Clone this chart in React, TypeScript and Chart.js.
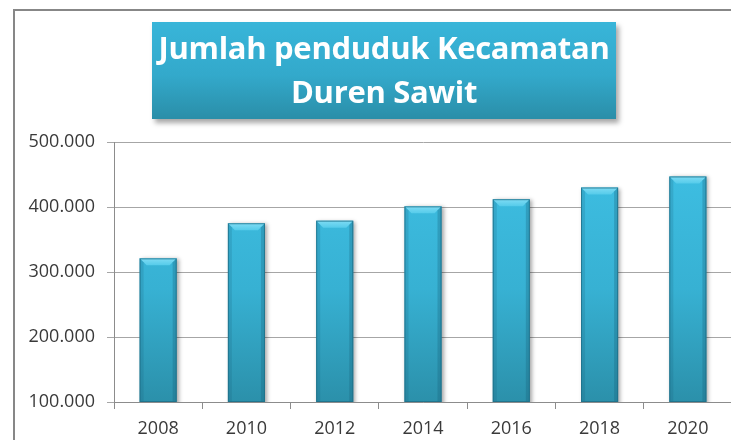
import React, { useEffect, useRef } from "react";
import { Chart, registerables } from "chart.js";

Chart.register(...registerables);

const titleLines = ["Jumlah penduduk Kecamatan", "Duren Sawit"];
const categories = ["2008", "2010", "2012", "2014", "2016", "2018", "2020"];
const population = [321000, 375000, 379000, 401000, 412000, 430000, 447000];
const yMin = 100000;
const yMax = 500000;
const yStep = 100000;

const formatDots = (v: number) =>
  String(Math.round(v)).replace(/\B(?=(\d{3})+(?!\d))/g, ".");

const barGeom = (chart: any, el: any) => {
  const area = chart.chartArea;
  const left = el.x - el.width / 2;
  const right = el.x + el.width / 2;
  const top = Math.max(Math.min(el.y, el.base), area.top);
  const bottom = Math.min(Math.max(el.y, el.base), area.bottom);
  return { left, right, top, bottom };
};

const barStylePlugin = {
  id: "barStyle",
  beforeDatasetsDraw(chart: any) {
    const ctx = chart.ctx;
    const meta = chart.getDatasetMeta(0);
    meta.data.forEach((el: any) => {
      const { top, bottom } = barGeom(chart, el);
      const g = ctx.createLinearGradient(0, top, 0, bottom);
      g.addColorStop(0, "#3dbde1");
      g.addColorStop(0.5, "#37b1d3");
      g.addColorStop(1, "#2b90aa");
      el.options.backgroundColor = g;
    });
    ctx.save();
    ctx.shadowColor = "rgba(0,0,0,0.35)";
    ctx.shadowBlur = 4;
    ctx.shadowOffsetX = 2;
    ctx.shadowOffsetY = 1;
  },
  afterDatasetsDraw(chart: any) {
    const ctx = chart.ctx;
    ctx.restore();
    const meta = chart.getDatasetMeta(0);
    meta.data.forEach((el: any) => {
      const { left, right, top, bottom } = barGeom(chart, el);
      const b = 7;
      const s = 4;
      ctx.save();
      const tg = ctx.createLinearGradient(0, top, 0, top + b);
      tg.addColorStop(0, "#7fdcf4");
      tg.addColorStop(1, "#55cbea");
      ctx.fillStyle = tg;
      ctx.beginPath();
      ctx.moveTo(left, top);
      ctx.lineTo(right, top);
      ctx.lineTo(right - b, top + b);
      ctx.lineTo(left + b, top + b);
      ctx.closePath();
      ctx.fill();
      ctx.fillStyle = "rgba(20,90,115,0.18)";
      ctx.beginPath();
      ctx.moveTo(left, top);
      ctx.lineTo(left + s, top + s);
      ctx.lineTo(left + s, bottom);
      ctx.lineTo(left, bottom);
      ctx.closePath();
      ctx.fill();
      ctx.fillStyle = "rgba(20,90,115,0.28)";
      ctx.beginPath();
      ctx.moveTo(right, top);
      ctx.lineTo(right - s, top + s);
      ctx.lineTo(right - s, bottom);
      ctx.lineTo(right, bottom);
      ctx.closePath();
      ctx.fill();
      ctx.strokeStyle = "rgba(30,110,135,0.8)";
      ctx.lineWidth = 1;
      ctx.strokeRect(left + 0.5, top + 0.5, right - left - 1, bottom - top - 1);
      ctx.restore();
    });
  },
};

export default function App() {
  const canvasRef = useRef<HTMLCanvasElement | null>(null);

  useEffect(() => {
    const canvas = canvasRef.current;
    if (!canvas) return;
    const tickFont = { family: "'Open Sans', sans-serif", size: 18 };
    const chart = new Chart(canvas, {
      type: "bar",
      data: {
        labels: categories,
        datasets: [
          {
            label: "Jumlah penduduk",
            data: population,
            backgroundColor: "#37b1d3",
            borderWidth: 0,
            categoryPercentage: 1,
            barPercentage: 0.42,
          },
        ],
      },
      options: {
        responsive: false,
        animation: false,
        layout: { padding: { top: 142, right: 7, bottom: 0, left: 0 } },
        plugins: {
          legend: { display: false },
          title: { display: false },
          tooltip: { enabled: false },
        },
        scales: {
          x: {
            offset: true,
            grid: {
              offset: true,
              drawOnChartArea: false,
              drawTicks: true,
              tickLength: 7,
              color: "#8c8c8c",
            },
            border: { display: true, color: "#8c8c8c" },
            ticks: { font: tickFont, color: "#3a3a3a", padding: 9, maxRotation: 0 },
            afterFit(scale: any) {
              scale.height = 46;
            },
          },
          y: {
            min: yMin,
            max: yMax,
            ticks: {
              stepSize: yStep,
              font: tickFont,
              color: "#3a3a3a",
              padding: 12,
              callback: (v: any) => formatDots(Number(v)),
            },
            grid: { color: "#a6a6a6", tickLength: 7, drawTicks: true },
            border: { display: true, color: "#8c8c8c" },
            afterFit(scale: any) {
              scale.width = 114;
            },
          },
        },
      },
      plugins: [barStylePlugin],
    });
    return () => chart.destroy();
  }, []);

  return (
    <div
      style={{
        position: "relative",
        width: 739,
        height: 448,
        margin: -8,
        overflow: "hidden",
        background: "#ffffff",
      }}
    >
      <div
        style={{
          position: "absolute",
          left: 13,
          top: 9,
          width: 739,
          height: 448,
          borderLeft: "2px solid #878787",
          borderTop: "2px solid #878787",
        }}
      />
      <canvas
        ref={canvasRef}
        width={739}
        height={448}
        style={{ position: "absolute", left: 0, top: 0, width: 739, height: 448 }}
      />
      <div
        style={{
          position: "absolute",
          left: 152,
          top: 22,
          width: 464,
          height: 97,
          background: "linear-gradient(to bottom, #38b5d9 0%, #33a9cb 55%, #2a8ea8 100%)",
          boxShadow: "3px 4px 5px rgba(0,0,0,0.35)",
          color: "#ffffff",
          fontFamily: "'Open Sans', sans-serif",
          fontWeight: 700,
          fontSize: 31,
          lineHeight: "44px",
          textAlign: "center",
          display: "flex",
          flexDirection: "column",
          justifyContent: "center",
          letterSpacing: -0.3,
          paddingBottom: 3,
          boxSizing: "border-box",
        }}
      >
        {titleLines.map((t) => (
          <div key={t}>{t}</div>
        ))}
      </div>
    </div>
  );
}
